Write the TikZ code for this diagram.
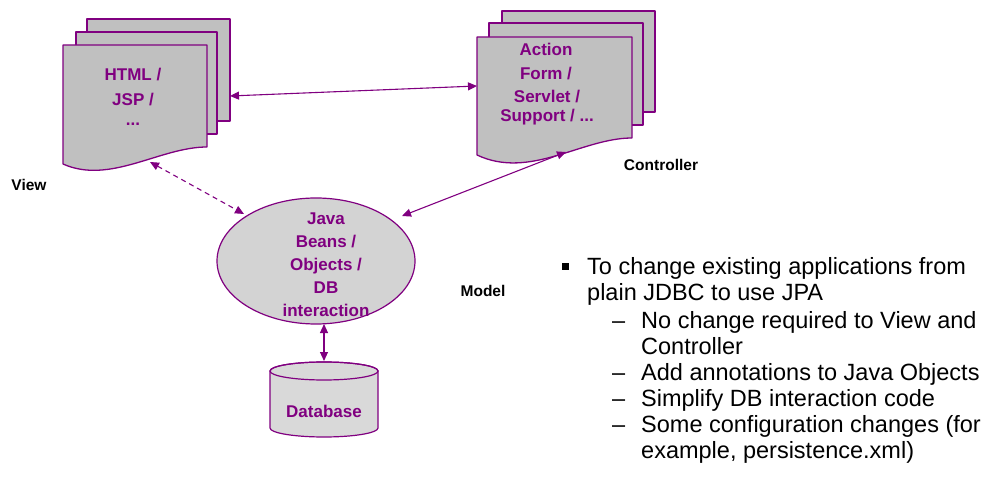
\documentclass[tikz,border=0pt]{standalone}
\usepackage{fontspec}
\setmainfont{Liberation Sans}
\usetikzlibrary{arrows.meta,shapes.geometric}

\definecolor{plum}{HTML}{800080}
\definecolor{pagegray}{HTML}{C0C0C0}
\definecolor{beangray}{HTML}{D3D3D3}
\definecolor{dbgray}{HTML}{D9D9D9}

\tikzset{
  sheet/.style={draw=plum, fill=pagegray, line width=1.3pt, line join=round},
  doctext/.style={text=plum, font=\fontsize{17}{20}\selectfont\bfseries, inner sep=0pt},
  tiertext/.style={text=black, font=\fontsize{15.5}{18}\selectfont\bfseries, inner sep=0pt},
  tip/.tip={Triangle[length=9pt,width=8pt]},
  link/.style={draw=plum, line width=1.1pt, tip-tip},
  bodytext/.style={anchor=base west, inner sep=0pt, font=\fontsize{23.5}{26}\selectfont},
}

\begin{document}
\begin{tikzpicture}[x=1pt,y=-1pt]
  \useasboundingbox (0,0) rectangle (990,478);

  % View: stack of pages
  \path[sheet] (87,19) rectangle (230,121);
  \path[sheet] (76,32) rectangle (217,134);
  \path[sheet] (63,45) -- (207,45) -- (207,147)
     .. controls (160,147) and (110,185) .. (63,164) -- cycle;
  \node[doctext] (html) at (133,75) {HTML /};
  \node[doctext] (jsp)  at (133,100) {JSP /};
  \node[doctext] (more) at (133,124) {...};

  % Controller: stack of pages
  \path[sheet] (502,11) rectangle (655,112);
  \path[sheet] (489,23) rectangle (643,125);
  \path[sheet] (477,37) -- (632,37) -- (632,138)
     .. controls (582,138) and (530,180) .. (477,155) -- cycle;
  \node[doctext] (action)  at (546,49) {Action};
  \node[doctext] (form)    at (546,74) {Form /};
  \node[doctext] (servlet) at (547,97) {Servlet /};
  \node[doctext] (support) at (547,117) {Support / ...};

  % Model
  \node[ellipse, draw=plum, fill=beangray, line width=1.2pt,
        minimum width=198pt, minimum height=126pt, inner sep=0pt] (model) at (316,261) {};
  \node[doctext, align=center, font=\fontsize{17}{23}\selectfont\bfseries] (beans) at (326,265)
     {Java\\Beans /\\Objects /\\DB\\interaction};

  % Database drum
  \path[draw=plum, fill=dbgray, line width=1.2pt]
     (270,371) -- (270,428) arc[start angle=180, end angle=360, x radius=54pt, y radius=9pt]
     -- (378,371) arc[start angle=0, end angle=180, x radius=54pt, y radius=9pt] -- cycle;
  \draw[plum, line width=1.2pt] (324,371) ellipse[x radius=54pt, y radius=9pt];
  \node[doctext] (db) at (324,411) {Database};

  % Tier labels
  \node[tiertext] (viewlbl) at (29,185) {View};
  \node[tiertext] (ctrllbl) at (661,165) {Controller};
  \node[tiertext] (modellbl) at (483,291) {Model};

  % Connector ends
  \coordinate (viewE)   at (230,96);
  \coordinate (ctrlW)   at (477,86);
  \coordinate (viewS)   at (150,162);
  \coordinate (modelNW) at (244,214);
  \coordinate (ctrlS)   at (566,152);
  \coordinate (modelNE) at (402,216);
  \coordinate (modelS)  at (324,324);
  \coordinate (dbN)     at (324,361);

  \path[link] (viewE) -- (ctrlW);
  \path[link, dash pattern=on 5pt off 4pt] (viewS) -- (modelNW);
  \path[link] (ctrlS) -- (modelNE);
  \path[link] (modelS) -- (dbN);

  % Notes
  \fill (562,263) rectangle (569,270);
  \node[bodytext] (n1) at (587,275) {To change existing applications from};
  \node[bodytext] (n2) at (587,301) {plain JDBC to use JPA};
  \node[bodytext] (d1) at (612,328) {–};
  \node[bodytext] (n3) at (641,328) {No change required to View and};
  \node[bodytext] (n4) at (641,354) {Controller};
  \node[bodytext] (d2) at (612,380) {–};
  \node[bodytext] (n5) at (641,380) {Add annotations to Java Objects};
  \node[bodytext] (d3) at (612,406) {–};
  \node[bodytext] (n6) at (641,406) {Simplify DB interaction code};
  \node[bodytext] (d4) at (612,432) {–};
  \node[bodytext] (n7) at (641,432) {Some configuration changes (for};
  \node[bodytext] (n8) at (641,458) {example, persistence.xml)};
\end{tikzpicture}
\end{document}
